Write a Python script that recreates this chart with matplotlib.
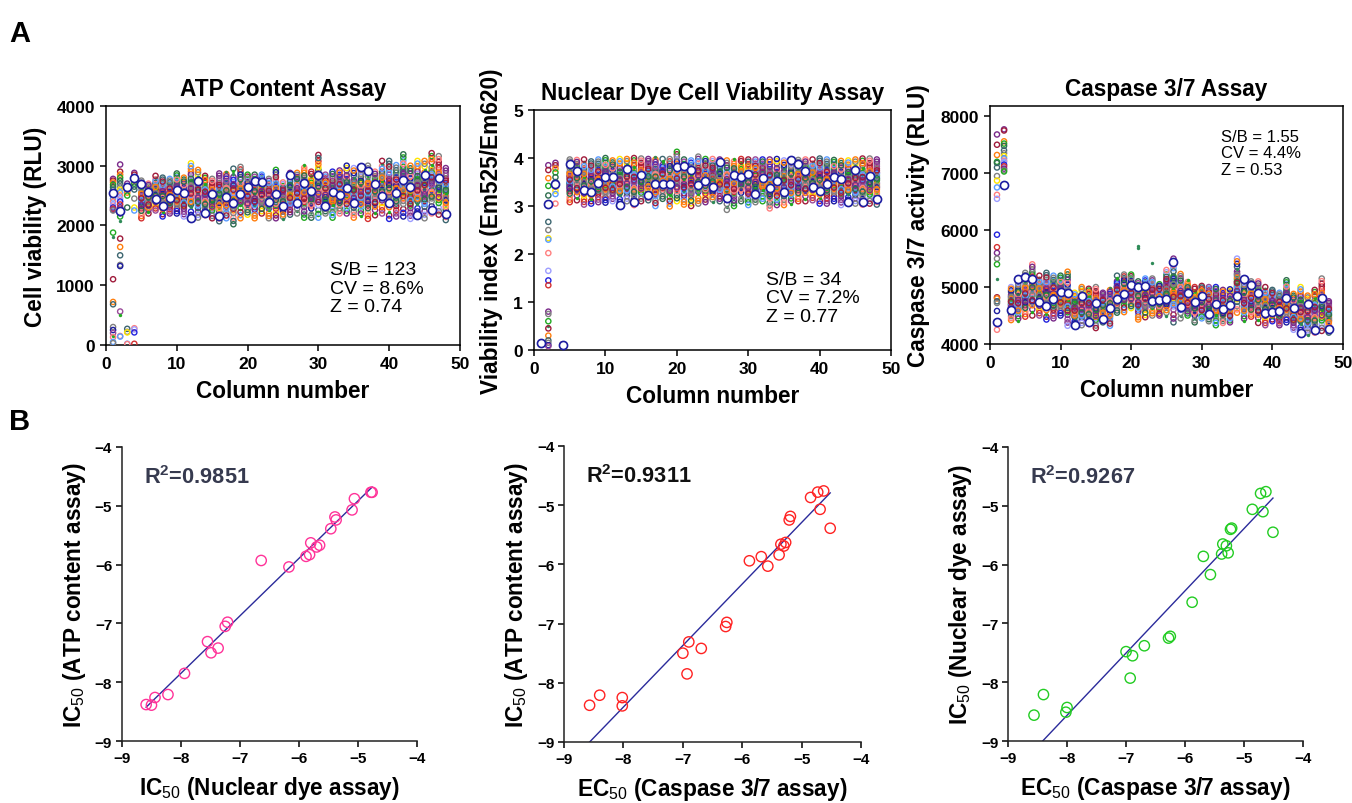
import numpy as np
import matplotlib.pyplot as plt

plt.rcParams['font.family'] = ['Liberation Sans', 'DejaVu Sans']
plt.rcParams['mathtext.fontset'] = 'custom'
plt.rcParams['mathtext.rm'] = 'Liberation Sans'
plt.rcParams['mathtext.bf'] = 'Liberation Sans:bold'
plt.rcParams['mathtext.it'] = 'Liberation Sans:italic'

# ---- panel A: plate uniformity (48 columns x 32 rows) ----
N_ROWS = 32
row_colors = ["#1c1ca0", "#7a2a8a", "#a01c3c", "#ff7f0e", "#22aa22", "#2e6e4e",
              "#3d6670", "#808080", "#ffe600", "#5a9cff", "#ff7f7f", "#9d9dff",
              "#2222dd", "#d43030", "#7a2a8a", "#808080", "#22aa22", "#2e8b57",
              "#a01c3c", "#ff7f0e", "#3d6670", "#808080", "#1c1ca0", "#9a4a9a",
              "#22aa22", "#ff7f7f", "#5a9cff", "#808080", "#7a2a8a", "#ff7f0e",
              "#2e6e4e", "#a01c3c"]
dot_rows = [17, 24]
# relative position of each plate row inside a column's spread (read by eye)
row_pos = [0.55, 0.30, 0.72, 0.45, 0.00, 0.62, 0.38, 0.85, 0.50, 0.25, 0.68,
           0.42, 1.00, 0.33, 0.58, 0.76, 0.12, 0.48, 0.80, 0.36, 0.65, 0.20,
           0.53, 0.90, 0.28, 0.60, 0.06, 0.46, 0.70, 0.40, 0.95, 0.57]

atp_ctrl = {
    1: [2550, 2780, 2750, 2720, 2680, 2640, 2600, 2560, 2500, 2450, 2400, 2350,
        2300, 2280, 2260, 2250, 1880, 1810, 1100, 720, 680, 300, 250, 200, 150,
        130, 50, 30],
    2: [2250, 3020, 2900, 2850, 2800, 2750, 2700, 2650, 2600, 2550, 2500, 2450,
        2400, 2350, 2300, 2200, 2150, 2080, 1780, 1640, 1500, 1340, 1320, 560,
        500, 150, 140],
    3: [2650, 2700, 2600, 2550, 2500, 2300, 270, 220, 210, 20, 15],
    4: [2800, 2880, 2850, 2750, 2700, 2650, 2600, 2450, 2300, 2250, 280, 260,
        210, 20],
}
atp_start = 5
atp_hi = [2750, 2700, 2830, 2800, 2780, 2870, 2800, 3040, 2930, 2830, 2780, 2870,
          2900, 2950, 2980, 2850, 2850, 2850, 2780, 2930, 2720, 2880, 2880, 3010,
          2900, 3180, 2850, 2900, 2920, 3000, 2960, 2980, 3000, 2900, 3080, 3080,
          3010, 3190, 3000, 3080, 3080, 3210, 3160, 2960]
atp_lo = [2120, 2200, 2250, 2150, 2200, 2200, 2150, 2120, 2130, 2170, 2120, 2070,
          2120, 2020, 2120, 2180, 2120, 2200, 2120, 2120, 2110, 2180, 2200, 2130,
          2130, 2130, 2200, 2130, 2200, 2200, 2130, 2150, 2110, 2170, 2200, 2110,
          2150, 2150, 2110, 2180, 2120, 2200, 2180, 2090]

nuc_ctrl = {
    1: [0.15, 0.14, 0.16, 0.13, 0.12, 0.15],
    2: [3.05, 3.85, 3.75, 3.58, 3.42, 3.22, 2.67, 2.50, 2.33, 2.30, 2.02, 1.65,
        1.45, 1.35, 0.80, 0.75, 0.60, 0.50, 0.45, 0.30, 0.20, 0.15, 0.10, 0.08],
    3: [3.45, 3.90, 3.85, 3.78, 3.70, 3.60, 3.50, 3.40, 3.32, 3.25, 3.05],
    4: [0.10, 0.12, 0.09, 0.11],
}
nuc_start = 5
nuc_hi = [3.97, 3.96, 3.97, 3.93, 3.97, 4.00, 3.95, 3.98, 3.98, 4.00, 3.99, 3.98,
          4.02, 3.98, 3.98, 4.13, 3.97, 3.95, 4.03, 3.98, 3.98, 3.97, 3.95, 3.98,
          3.98, 3.97, 3.97, 3.97, 3.97, 3.98, 3.95, 3.96, 3.96, 3.97, 3.97, 3.99,
          3.97, 3.96, 3.94, 3.95, 3.97, 3.99, 3.99, 3.97]
nuc_lo = [3.08, 3.12, 3.03, 3.05, 3.08, 3.07, 3.10, 3.03, 3.10, 3.02, 3.10, 3.12,
          3.00, 3.15, 2.99, 3.10, 3.03, 3.00, 3.05, 3.08, 3.08, 3.10, 2.92, 3.00,
          3.10, 3.02, 3.08, 3.10, 2.95, 3.02, 3.02, 3.05, 3.10, 3.10, 3.12, 3.05,
          3.05, 3.10, 3.02, 3.08, 3.05, 3.03, 3.05, 3.03]

cas_ctrl = {
    1: [4380, 7680, 7500, 7320, 7200, 7180, 7100, 6950, 6870, 6750, 6620, 6550,
        5920, 5700, 5600, 5500, 5400, 5150, 4820, 4800, 4750, 4720, 4580, 4370,
        4360, 4250],
    2: [6800, 7770, 7750, 7560, 7520, 7480, 7400, 7350, 7300, 7260, 7220, 7200,
        7150, 7120, 7080, 7050, 7030],
}
cas_start = 3
cas_hi = [5000, 5150, 5250, 5400, 5200, 5250, 5200, 5200, 5270, 4900, 5000, 4970,
          5000, 4900, 4980, 5200, 5220, 5220, 5100, 5150, 5150, 5050, 5300, 5500,
          5230, 5120, 5000, 5020, 5000, 5000, 4950, 4960, 5500, 5150, 5100, 5100,
          5000, 4950, 4900, 5120, 4880, 5000, 4850, 4950, 5150, 4750]
cas_lo = [4420, 4400, 4480, 4500, 4500, 4430, 4450, 4500, 4320, 4330, 4330, 4350,
          4280, 4380, 4320, 4550, 4560, 4630, 4430, 4470, 4500, 4500, 4500, 4380,
          4450, 4500, 4380, 4450, 4400, 4330, 4370, 4380, 4550, 4400, 4480, 4370,
          4330, 4400, 4330, 4380, 4250, 4200, 4200, 4200, 4230, 4200]
cas_dot_cols = [21, 21, 23, 44, 45]
cas_dot_vals = [5720, 5680, 5420, 4180, 4150]

# ---- panel B: potency correlations ----
b1_x = [-4.78, -4.76, -5.06, -5.10, -5.39, -5.37, -5.46, -5.80, -5.65, -5.70, -5.88, -5.82,
        -6.64, -6.17, -7.21, -7.25, -7.55, -7.37, -7.49, -7.94, -8.22, -8.44, -8.59, -8.50]
b1_y = [-4.77, -4.77, -4.88, -5.07, -5.19, -5.24, -5.39, -5.63, -5.67, -5.70, -5.86, -5.83,
        -5.93, -6.04, -6.98, -7.05, -7.31, -7.42, -7.50, -7.85, -8.21, -8.26, -8.38, -8.39]
b2_x = [-4.63, -4.73, -4.85, -4.69, -4.52, -5.19, -5.21, -5.27, -5.30, -5.35, -5.38, -5.68,
        -5.88, -5.57, -6.26, -6.28, -6.90, -6.69, -7.00, -6.93, -8.40, -8.57, -8.02, -8.02]
b2_y = [-4.76, -4.78, -4.87, -5.07, -5.39, -5.19, -5.25, -5.63, -5.69, -5.66, -5.84, -5.87,
        -5.94, -6.03, -6.98, -7.05, -7.31, -7.42, -7.50, -7.85, -8.21, -8.38, -8.25, -8.39]
b3_x = [-4.63, -4.72, -4.86, -4.68, -4.51, -5.21, -5.23, -5.36, -5.30, -5.38, -5.27, -5.69,
        -5.57, -5.88, -6.25, -6.28, -6.69, -7.00, -6.89, -6.93, -8.40, -8.56, -8.00, -8.02]
b3_y = [-4.76, -4.79, -5.06, -5.10, -5.45, -5.38, -5.40, -5.65, -5.68, -5.82, -5.80, -5.86,
        -6.17, -6.64, -7.22, -7.25, -7.38, -7.48, -7.55, -7.93, -8.21, -8.56, -8.43, -8.51]


def plate_rows(ctrl, start, lo, hi):
    rows = [([], []) for _ in range(N_ROWS)]
    for col, vals in ctrl.items():
        for i, v in enumerate(vals):
            rows[i % N_ROWS][0].append(col)
            rows[i % N_ROWS][1].append(v)
    for j, (a, b) in enumerate(zip(lo, hi)):
        col = start + j
        for r in range(N_ROWS):
            f = row_pos[(r + 11 * col) % N_ROWS]
            rows[r][0].append(col)
            rows[r][1].append(a + f * (b - a))
    return rows


def draw_plate(ax, rows):
    for r in list(range(1, N_ROWS)) + [0]:
        xs, ys = rows[r]
        if r == 0:
            ax.scatter(xs, ys, s=34, facecolors='white', edgecolors='#1c1ca0',
                       linewidths=1.2, zorder=4)
        elif r in dot_rows:
            ax.scatter(xs, ys, s=6, c=row_colors[r], linewidths=0, zorder=3)
        else:
            ax.scatter(xs, ys, s=14, facecolors='none', edgecolors=row_colors[r],
                       linewidths=1.0, zorder=3)


def style_top(ax, ylim, yticks, title, ylabel):
    ax.set_xlim(0, 50)
    ax.set_ylim(*ylim)
    ax.set_xticks(range(0, 51, 10))
    ax.set_yticks(yticks)
    for s in ax.spines.values():
        s.set_linewidth(1.1)
    ax.tick_params(direction='out', length=4, width=1.1, labelsize=12.5, pad=4)
    for lab in ax.get_xticklabels() + ax.get_yticklabels():
        lab.set_fontweight('bold')
    ax.set_title(title, fontsize=16.3, fontweight='bold', pad=8)
    ax.set_xlabel('Column number', fontsize=16.3, fontweight='bold', labelpad=6)
    ax.set_ylabel(ylabel, fontsize=16.3, fontweight='bold', labelpad=7)


def draw_corr(ax, x, y, color, r2, r2_color, xlabel, ylabel, x_on_y=True):
    ax.scatter(x, y, s=55, facecolors='none', edgecolors=color, linewidths=1.0, zorder=3)
    xl = np.array([min(x), max(x)])
    if x_on_y:
        a, c = np.polyfit(y, x, 1)
        yl = (xl - c) / a
    else:
        k, b = np.polyfit(x, y, 1)
        yl = k * xl + b
    ax.plot(xl, yl, color='#2b2b9b', lw=1.0, zorder=2)
    ax.set_xlim(-9, -4)
    ax.set_ylim(-9, -4)
    ax.set_xticks(range(-9, -3))
    ax.set_yticks(range(-9, -3))
    ax.spines['top'].set_visible(False)
    ax.spines['right'].set_visible(False)
    for s in ['left', 'bottom']:
        ax.spines[s].set_linewidth(1.1)
        ax.spines[s].set_color('#222222')
    ax.tick_params(direction='out', length=4, width=1.1, labelsize=11, pad=3)
    for lab in ax.get_xticklabels() + ax.get_yticklabels():
        lab.set_fontweight('bold')
    ax.text(0.075, 0.90, r2, transform=ax.transAxes, fontsize=15.7, fontweight='bold',
            color=r2_color, va='center', ha='left')
    ax.set_xlabel(xlabel, fontsize=16.3, fontweight='bold', labelpad=7)
    ax.set_ylabel(ylabel, fontsize=16.3, fontweight='bold', labelpad=5)


fig = plt.figure(figsize=(13.52, 8.04), dpi=100)

ax1 = fig.add_axes([0.0784, 0.5697, 0.2618, 0.2973])
draw_plate(ax1, plate_rows(atp_ctrl, atp_start, atp_lo, atp_hi))
style_top(ax1, (0, 4000), range(0, 4001, 1000), 'ATP Content Assay', 'Cell viability (RLU)')
ax1.text(0.633, 0.35, 'S/B = 123\nCV = 8.6%\nZ = 0.74', transform=ax1.transAxes,
         fontsize=14, va='top', ha='left', linespacing=1.12)

ax2 = fig.add_axes([0.3950, 0.5634, 0.2641, 0.2985])
draw_plate(ax2, plate_rows(nuc_ctrl, nuc_start, nuc_lo, nuc_hi))
style_top(ax2, (0, 5), range(0, 6), 'Nuclear Dye Cell Viability Assay',
          'Viability index (Em525/Em620)')
ax2.text(0.65, 0.33, 'S/B = 34\nCV = 7.2%\nZ = 0.77', transform=ax2.transAxes,
         fontsize=14, va='top', ha='left', linespacing=1.12)

ax3 = fig.add_axes([0.7322, 0.5709, 0.2611, 0.2960])
draw_plate(ax3, plate_rows(cas_ctrl, cas_start, cas_lo, cas_hi))
ax3.scatter(cas_dot_cols, cas_dot_vals, s=6, c='#2e8b57', linewidths=0, zorder=3)
style_top(ax3, (4000, 8180), range(4000, 8001, 1000), 'Caspase 3/7 Assay',
          'Caspase 3/7 activity (RLU)')
ax3.text(0.654, 0.905, 'S/B = 1.55\nCV = 4.4%\nZ = 0.53', transform=ax3.transAxes,
         fontsize=12, va='top', ha='left', linespacing=1.12)

bx1 = fig.add_axes([0.0902, 0.0771, 0.2182, 0.3657])
draw_corr(bx1, b1_x, b1_y, '#ff3399', r'R$^{\mathbf{2}}$=0.9851', '#363a4f',
          r'IC$_{\rm 50}$ (Nuclear dye assay)', r'IC$_{\rm 50}$ (ATP content assay)',
          x_on_y=False)

bx2 = fig.add_axes([0.4172, 0.0759, 0.2197, 0.3682])
draw_corr(bx2, b2_x, b2_y, '#ff2222', r'R$^{\mathbf{2}}$=0.9311', '#111111',
          r'EC$_{\rm 50}$ (Caspase 3/7 assay)', r'IC$_{\rm 50}$ (ATP content assay)')

bx3 = fig.add_axes([0.7456, 0.0771, 0.2182, 0.3657])
draw_corr(bx3, b3_x, b3_y, '#22cc22', r'R$^{\mathbf{2}}$=0.9267', '#363a4f',
          r'EC$_{\rm 50}$ (Caspase 3/7 assay)', r'IC$_{\rm 50}$ (Nuclear dye assay)')

fig.text(0.007, 0.958, 'A', fontsize=21, fontweight='bold', va='center')
fig.text(0.007, 0.475, 'B', fontsize=21, fontweight='bold', va='center')

fig.savefig('out.png', dpi=100)
